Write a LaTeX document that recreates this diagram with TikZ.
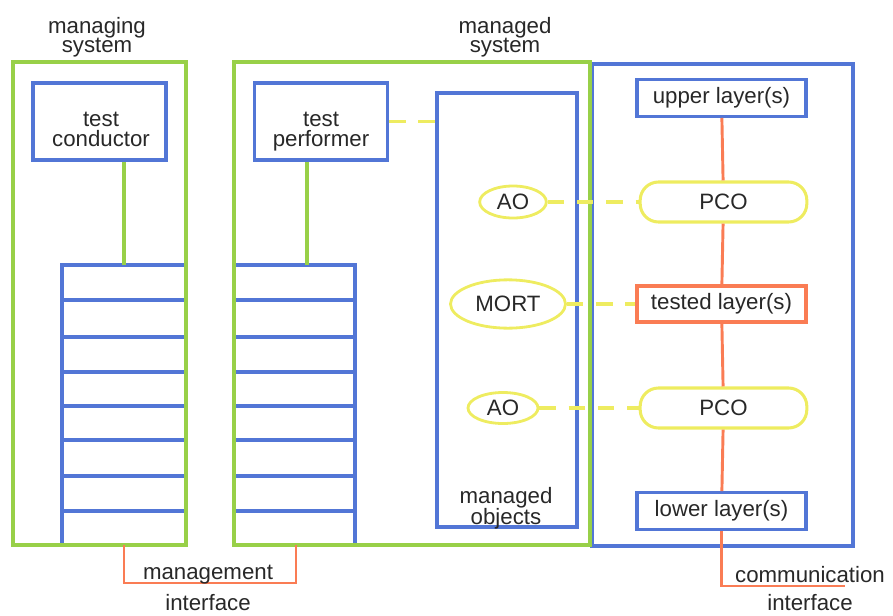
\documentclass[tikz,border=0pt]{standalone}
\usepackage{fontspec}
\setmainfont{Liberation Sans}
\usetikzlibrary{shapes.geometric}
\definecolor{lineblue}{RGB}{82,118,214}
\definecolor{linegreen}{RGB}{152,208,72}
\definecolor{lineyellow}{RGB}{238,236,96}
\definecolor{lineorange}{RGB}{250,124,84}
\definecolor{textgrey}{RGB}{40,40,40}
\newcommand\tightlead[1]{\fontsize{19}{#1}\selectfont\lineskiplimit-20pt\relax}
\tikzset{
    lbl/.style={font=\tightlead{17}, text=textgrey, align=center, inner sep=0pt},
    bluebox/.style={draw=lineblue, line width=2.8pt, lbl},
    greenbox/.style={draw=linegreen, line width=2.6pt},
    yellowlink/.style={draw=lineyellow, line width=2.6pt, dash pattern=on 14pt off 11pt},
    orangelink/.style={draw=lineorange, line width=2.5pt},
    objring/.style={ellipse, draw=lineyellow, line width=2.4pt, lbl},
    pcobox/.style={draw=lineyellow, line width=2.6pt, rounded corners=0.55cm, lbl,
        minimum width=5.0cm, minimum height=1.2cm},
    layerbox/.style={bluebox, minimum width=5.07cm, minimum height=1.1cm}
}
\begin{document}
\begin{tikzpicture}[x=0.03cm, y=-0.03cm]
    \useasboundingbox (0,0) rectangle (893,616);
    \node[lbl, font=\tightlead{16.5}] (mgrtitle) at (97,37) {managing\\system};
    \node[lbl, font=\tightlead{16.5}] (mgdtitle) at (505,37) {managed\\system};

    \node[bluebox, minimum width=7.83cm, minimum height=14.46cm] (comm) at (722.5,305) {};
    \node[bluebox, minimum width=3.72cm, minimum height=8.4cm] (stackA) at (124,405) {};
    \node[bluebox, minimum width=3.63cm, minimum height=8.4cm] (stackB) at (294.5,405) {};
    \foreach \y in {300,337,372,406,440,476,511} {
        \draw[lineblue, line width=2.8pt] (stackA.west |- 0,\y) -- (stackA.east |- 0,\y);
        \draw[lineblue, line width=2.8pt] (stackB.west |- 0,\y) -- (stackB.east |- 0,\y);
    }
    \node[greenbox, minimum width=5.19cm, minimum height=14.49cm] (manager) at (99.5,303.5) {};
    \node[greenbox, minimum width=10.68cm, minimum height=14.49cm] (managed) at (412,303.5) {};

    \node[bluebox, minimum width=3.99cm, minimum height=2.31cm] (cond) at (99.5,121.5) {};
    \node[lbl] (condlbl) at (101,129.5) {test\\conductor};
    \node[bluebox, minimum width=3.99cm, minimum height=2.31cm] (perf) at (321,121.5) {};
    \node[lbl] (perflbl) at (321,132) {test\\performer};
    \node[bluebox, minimum width=4.2cm, minimum height=13.02cm] (objs) at (507,310) {};
    \node[lbl, font=\tightlead{18}] (objslbl) at (506,508) {managed\\objects};

    \node[objring, minimum width=2.0cm, minimum height=0.96cm] (aoA) at (513,202) {AO};
    \node[objring, minimum width=3.45cm, minimum height=1.45cm] (mort) at (508,304) {MORT};
    \node[objring, minimum width=2.1cm, minimum height=0.93cm] (aoB) at (503,408) {AO};

    \node[layerbox] (upper) at (721.5,98) {upper layer(s)};
    \node[pcobox] (pcoA) at (723.5,202) {PCO};
    \node[layerbox, draw=lineorange, line width=3.2pt] (tested) at (721.5,304) {tested layer(s)};
    \node[pcobox] (pcoB) at (723.5,408) {PCO};
    \node[layerbox] (lower) at (721.5,511) {lower layer(s)};

    \coordinate (tapA) at (124,265);
    \coordinate (tapB) at (307,265);
    \draw[greenbox] (tapA) -- (tapA |- cond.south);
    \draw[greenbox] (tapB) -- (tapB |- perf.south);

    \draw[yellowlink] (perf.east) -- (perf.east -| objs.west);
    \draw[yellowlink] (aoA.east) -- (pcoA.west);
    \draw[yellowlink] (mort.east) -- (tested.west);
    \draw[yellowlink] (aoB.east) -- (pcoB.west);

    \draw[orangelink] (upper) -- (pcoA) -- (tested) -- (pcoB) -- (lower);
    \coordinate (commend) at (845,586);
    \draw[orangelink] (lower.south) |- (commend);
    \node[lbl] (commlbl) at (810,575) {communication};
    \node[lbl] (commlbl2) at (810,603) {interface};

    \coordinate (mgmtA) at (124,545);
    \coordinate (mgmtB) at (296,545);
    \draw[orangelink] (mgmtA) -- ++(0,38) -| (mgmtB);
    \node[lbl] (mgmtlbl) at (208,575) {management};
    \node[lbl] (mgmtlbl2) at (208,603) {interface};
\end{tikzpicture}
\end{document}
